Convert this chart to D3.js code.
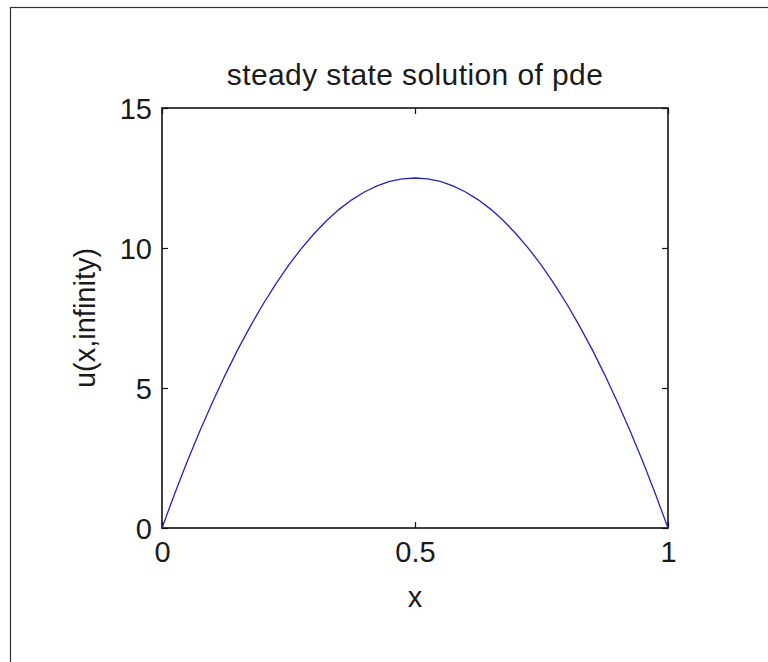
<!DOCTYPE html>
<html>
<head>
<meta charset="utf-8">
<script src="https://cdn.jsdelivr.net/npm/d3@7"></script>
<style>
  html, body { margin: 0; padding: 0; background: #fff; }
  svg { display: block; }
  text { font-family: "Liberation Sans", Arial, sans-serif; fill: #1a1a1a; }
</style>
</head>
<body>
<svg id="chart" width="768" height="662"></svg>
<script>
// Steady-state profile u(x, infinity) sampled along x
const xValues = [0, 0.025, 0.05, 0.075, 0.1, 0.125, 0.15, 0.175, 0.2, 0.225, 0.25,
                 0.275, 0.3, 0.325, 0.35, 0.375, 0.4, 0.425, 0.45, 0.475, 0.5,
                 0.525, 0.55, 0.575, 0.6, 0.625, 0.65, 0.675, 0.7, 0.725, 0.75,
                 0.775, 0.8, 0.825, 0.85, 0.875, 0.9, 0.925, 0.95, 0.975, 1];
const uValues = [0, 1.22, 2.38, 3.47, 4.5, 5.47, 6.38, 7.22, 8, 8.72, 9.38,
                 9.97, 10.5, 10.97, 11.38, 11.72, 12, 12.22, 12.38, 12.47, 12.5,
                 12.47, 12.38, 12.22, 12, 11.72, 11.38, 10.97, 10.5, 9.97, 9.38,
                 8.72, 8, 7.22, 6.38, 5.47, 4.5, 3.47, 2.38, 1.22, 0];
const xTicks = [0, 0.5, 1];
const yTicks = [0, 5, 10, 15];
const titleText = "steady state solution of pde";
const xLabelText = "x";
const yLabelText = "u(x,infinity)";

const svg = d3.select("#chart");

// figure frame
svg.append("rect")
  .attr("x", 10.5).attr("y", 7.5)
  .attr("width", 800).attr("height", 700)
  .attr("fill", "#fff")
  .attr("stroke", "#333").attr("stroke-width", 1.2);

const box = { left: 162, right: 668, top: 108, bottom: 528 };

const x = d3.scaleLinear().domain([0, 1]).range([box.left, box.right]);
const y = d3.scaleLinear().domain([0, 15]).range([box.bottom, box.top]);

const tickLen = 6;
const fontSize = 29;

// axes with inward ticks on all four sides
const axisBottom = d3.axisBottom(x).tickValues(xTicks).tickFormat(d3.format("")).tickSize(-tickLen).tickPadding(12);
const axisTop = d3.axisTop(x).tickValues(xTicks).tickFormat("").tickSize(-tickLen);
const axisLeft = d3.axisLeft(y).tickValues(yTicks).tickFormat(d3.format("")).tickSize(-tickLen).tickPadding(10);
const axisRight = d3.axisRight(y).tickValues(yTicks).tickFormat("").tickSize(-tickLen);

function styleAxis(g) {
  g.select(".domain").remove();
  g.selectAll(".tick line").attr("stroke", "#111").attr("stroke-width", 1.2);
  g.selectAll(".tick text")
    .attr("font-size", fontSize)
    .attr("font-family", "Liberation Sans, Arial, sans-serif")
    .attr("fill", "#1a1a1a");
}

svg.append("g").attr("transform", `translate(0,${box.bottom})`).call(axisBottom).call(styleAxis)
  .selectAll(".tick text").attr("dy", "0.75em");
svg.append("g").attr("transform", `translate(0,${box.top})`).call(axisTop).call(styleAxis);
svg.append("g").attr("transform", `translate(${box.left},0)`).call(axisLeft).call(styleAxis)
  .selectAll(".tick text").attr("dy", "0.36em");
svg.append("g").attr("transform", `translate(${box.right},0)`).call(axisRight).call(styleAxis);

// axes box
svg.append("rect")
  .attr("x", box.left).attr("y", box.top)
  .attr("width", box.right - box.left).attr("height", box.bottom - box.top)
  .attr("fill", "none").attr("stroke", "#111").attr("stroke-width", 1.6);

// curve
const line = d3.line()
  .x((d, i) => x(xValues[i]))
  .y(d => y(d));

svg.append("path")
  .datum(uValues)
  .attr("fill", "none")
  .attr("stroke", "#2424bb")
  .attr("stroke-width", 1.3)
  .attr("d", line);

// title and axis labels
svg.append("text")
  .attr("x", (box.left + box.right) / 2)
  .attr("y", 85)
  .attr("text-anchor", "middle")
  .attr("font-size", 30)
  .attr("letter-spacing", 0.4)
  .text(titleText);

svg.append("text")
  .attr("x", (box.left + box.right) / 2)
  .attr("y", 607)
  .attr("text-anchor", "middle")
  .attr("font-size", fontSize)
  .text(xLabelText);

svg.append("text")
  .attr("transform", `translate(95,${(box.top + box.bottom) / 2}) rotate(-90)`)
  .attr("text-anchor", "middle")
  .attr("font-size", fontSize)
  .text(yLabelText);
</script>
</body>
</html>
